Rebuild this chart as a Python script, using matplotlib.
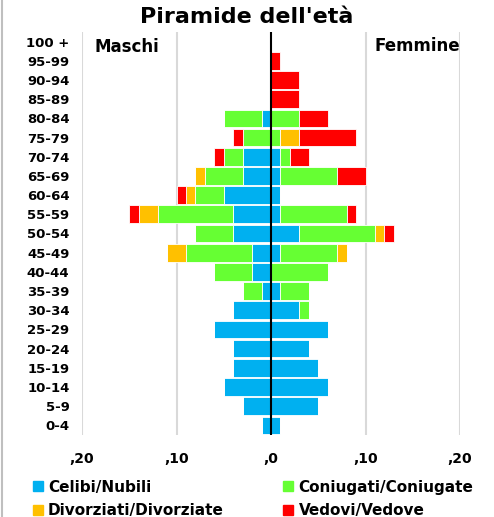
import matplotlib
matplotlib.use("Agg")
import matplotlib.pyplot as plt
import numpy as np
from matplotlib.lines import Line2D

ages = ["0-4", "5-9", "10-14", "15-19", "20-24", "25-29", "30-34", "35-39",
        "40-44", "45-49", "50-54", "55-59", "60-64", "65-69", "70-74",
        "75-79", "80-84", "85-89", "90-94", "95-99", "100 +"]

series = ["Celibi/Nubili", "Coniugati/Coniugate", "Divorziati/Divorziate", "Vedovi/Vedove"]
colors = ["#00B0F0", "#66FF33", "#FFC000", "#FF0000"]

# Maschi (values in hundredths)
m_celibi     = [1, 3, 5, 4, 4, 6, 4, 1, 2, 2, 4, 4, 5, 3, 3, 0, 1, 0, 0, 0, 0]
m_coniugati  = [0, 0, 0, 0, 0, 0, 0, 2, 4, 7, 4, 8, 3, 4, 2, 3, 4, 0, 0, 0, 0]
m_divorziati = [0, 0, 0, 0, 0, 0, 0, 0, 0, 2, 0, 2, 1, 1, 0, 0, 0, 0, 0, 0, 0]
m_vedovi     = [0, 0, 0, 0, 0, 0, 0, 0, 0, 0, 0, 1, 1, 0, 1, 1, 0, 0, 0, 0, 0]

# Femmine
f_nubili     = [1, 5, 6, 5, 4, 6, 3, 1, 0, 1, 3, 1, 1, 1, 1, 0, 0, 0, 0, 0, 0]
f_coniugate  = [0, 0, 0, 0, 0, 0, 1, 3, 6, 6, 8, 7, 0, 6, 1, 1, 3, 0, 0, 0, 0]
f_divorziate = [0, 0, 0, 0, 0, 0, 0, 0, 0, 1, 1, 0, 0, 0, 0, 2, 0, 0, 0, 0, 0]
f_vedove     = [0, 0, 0, 0, 0, 0, 0, 0, 0, 0, 1, 1, 0, 3, 2, 6, 3, 3, 3, 1, 0]

xticks = [-20, -10, 0, 10, 20]
xtick_labels = [",20", ",10", ",0", ",10", ",20"]

plt.rcParams['font.family'] = ['DejaVu Sans']
fig = plt.figure(figsize=(4.94, 5.17), dpi=100)
ax = fig.add_axes([82/494, 1-435/517, (460-82)/494, (435-32)/517])

y = np.arange(len(ages))
males = [m_celibi, m_coniugati, m_divorziati, m_vedovi]
females = [f_nubili, f_coniugate, f_divorziate, f_vedove]

left = np.zeros(len(ages))
for vals, c, lab in zip(males, colors, series):
    v = -np.array(vals, dtype=float)
    ax.barh(y, v, left=left, height=0.92, color=c, edgecolor="white", linewidth=0.6, label=lab, zorder=3)
    left += v
left = np.zeros(len(ages))
for vals, c in zip(females, colors):
    v = np.array(vals, dtype=float)
    ax.barh(y, v, left=left, height=0.92, color=c, edgecolor="white", linewidth=0.6, zorder=3)
    left += v

ax.set_xlim(-20, 20)
ax.set_ylim(-0.5, len(ages) - 0.5)
for xv in [-20, -10, 10, 20]:
    ax.axvline(xv, color="#D9D9D9", linewidth=1.5, zorder=1)
ax.axvline(0, color="black", linewidth=1.5, zorder=4)

for s in ax.spines.values():
    s.set_visible(False)
ax.set_xticks(xticks)
ax.set_xticklabels(xtick_labels, fontsize=10, fontweight="bold")
ax.set_yticks(y)
ax.set_yticklabels(ages, fontsize=9.5, fontweight="bold")
ax.tick_params(length=0, pad=9, axis="y")
ax.tick_params(length=0, pad=12, axis="x")

ax.text(-18.7, 19.7, "Maschi", fontsize=12, fontweight="bold", va="center", ha="left")
ax.text(20, 19.75, "Femmine", fontsize=12, fontweight="bold", va="center", ha="right")

fig.text(247/494, 1-17/517, "Piramide dell'età", ha="center", va="center", fontsize=16, fontweight="bold")

order = [0, 2, 1, 3]
handles = [plt.Rectangle((0, 0), 1, 1, color=colors[i]) for i in order]
labels = [series[i] for i in order]
fig.legend(handles, labels, loc="upper left", bbox_to_anchor=(22/494, 1-469/517), ncol=2,
           frameon=False, prop={"size": 11, "weight": "bold"}, handlelength=0.65, handleheight=0.65,
           handletextpad=0.35, columnspacing=3.9, labelspacing=0.55, borderpad=0.2)

fig.add_artist(Line2D([1.5/494, 1.5/494], [0, 1], transform=fig.transFigure, color="#BFBFBF", linewidth=1.5))

fig.savefig("out.png", dpi=100, facecolor="white")
